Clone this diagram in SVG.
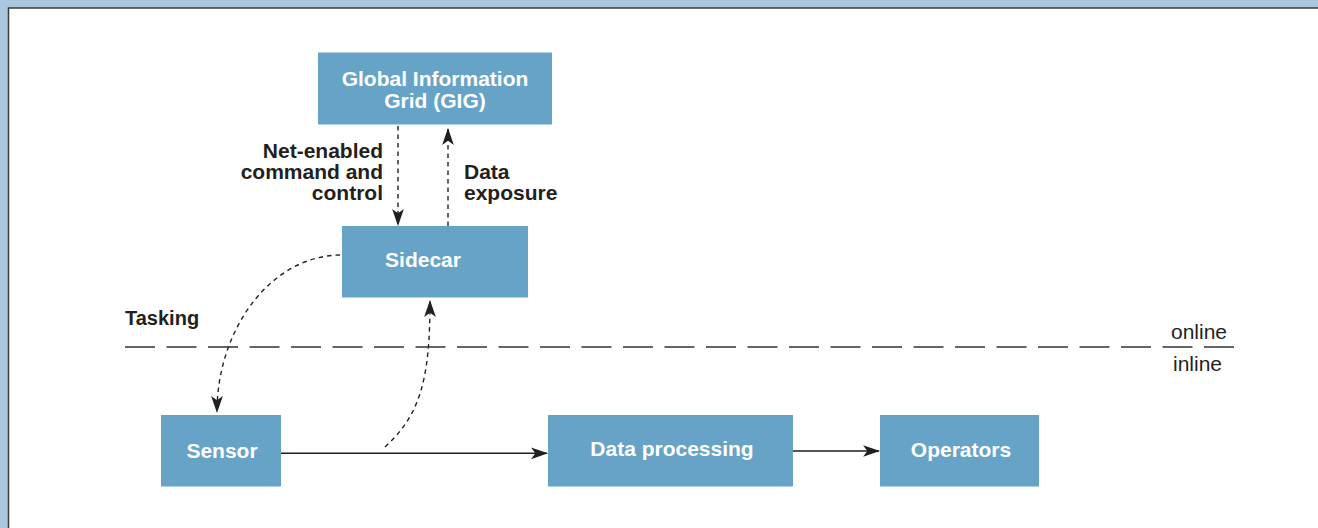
<svg xmlns="http://www.w3.org/2000/svg" width="1318" height="528" viewBox="0 0 1318 528">
<style>
.box{fill:#66a3c7}
.nt{font-family:"Liberation Sans",Arial,sans-serif;font-weight:bold;font-size:21px;fill:#ffffff;text-anchor:middle}
.lb{font-family:"Liberation Sans",Arial,sans-serif;font-weight:bold;font-size:21px;fill:#231f20}
.rg{font-family:"Liberation Sans",Arial,sans-serif;font-size:21px;fill:#231f20;text-anchor:middle}
.dash{fill:none;stroke:#231f20;stroke-width:1.4;stroke-dasharray:4.5 4}
.solid{fill:none;stroke:#231f20;stroke-width:1.6}
</style>
<defs>
<marker id="ah" viewBox="0 0 16 12" refX="15" refY="6" markerWidth="17" markerHeight="13" markerUnits="userSpaceOnUse" orient="auto">
<path d="M0,0.5 L16,6 L0,11.5 L4,6 z" fill="#231f20"/>
</marker>
</defs>
<rect x="0" y="0" width="1318" height="528" fill="#abc7df"/>
<rect x="8.5" y="8" width="1310" height="520" fill="#ffffff"/>
<path d="M8.5,528 L8.5,8 L1318,8" fill="none" stroke="#3a3a3a" stroke-width="1.5"/>

<g id="connectors">
<path class="dash" d="M398,126 L398,225" marker-end="url(#ah)"/>
<path class="dash" d="M448,226 L448,129" marker-end="url(#ah)"/>
<path class="dash" d="M340,255 C270,256 217,330 217,412" marker-end="url(#ah)"/>
<path class="dash" d="M385,447 C420,415 430,380 430,301" marker-end="url(#ah)"/>
<path class="solid" d="M281,453.3 L547,453.3" marker-end="url(#ah)"/>
<path d="M793,451 L879,451" fill="none" stroke="#555555" stroke-width="2" marker-end="url(#ah)"/>
<path d="M125,347 L1234,347" fill="none" stroke="#333333" stroke-width="1.6" stroke-dasharray="30 11.5"/>
</g>

<g id="gig">
<rect class="box" x="318" y="52.5" width="234" height="72"/>
<text class="nt" x="435" y="86">Global Information</text>
<text class="nt" x="435" y="108">Grid (GIG)</text>
</g>
<g id="sidecar">
<rect class="box" x="342" y="226" width="186" height="71.5"/>
<text class="nt" x="423" y="267">Sidecar</text>
</g>
<g id="sensor">
<rect class="box" x="161" y="415" width="120" height="71.5"/>
<text class="nt" x="222" y="458">Sensor</text>
</g>
<g id="dataprocessing">
<rect class="box" x="548" y="415" width="245" height="71.5"/>
<text class="nt" x="672" y="456">Data processing</text>
</g>
<g id="operators">
<rect class="box" x="880" y="415" width="159" height="71.5"/>
<text class="nt" x="961" y="457">Operators</text>
</g>

<g id="labels">
<text class="lb" x="383" y="157.5" text-anchor="end">Net-enabled</text>
<text class="lb" x="383" y="178.5" text-anchor="end">command and</text>
<text class="lb" x="383" y="200" text-anchor="end">control</text>
<text class="lb" x="464" y="178.5">Data</text>
<text class="lb" x="464" y="200">exposure</text>
<text class="lb" x="125" y="325" style="font-size:20px">Tasking</text>
<text class="rg" x="1199" y="338.5">online</text>
<text class="rg" x="1197.5" y="370.5">inline</text>
</g>
</svg>
